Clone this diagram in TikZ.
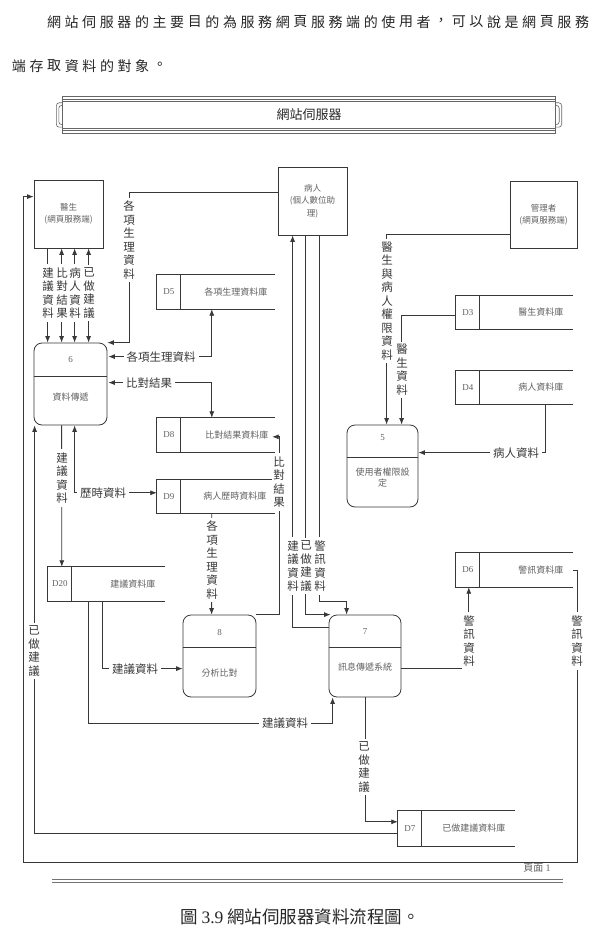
\documentclass[tikz,border=0pt]{standalone}
\usepackage{fontspec}
\newfontfamily\cjk{Noto Sans CJK TC}
\newfontfamily\tnr{Liberation Serif}
\usetikzlibrary{arrows.meta,calc}
\definecolor{linec}{gray}{0.22}
\definecolor{boxc}{gray}{0.38}
\definecolor{labc}{gray}{0.22}
\newcommand\mkstore[8]{%
  \node[minimum width=#4pt,minimum height=#5pt,inner sep=0pt] (#1) at (#2,#3) {};
  \draw[ln] (#1.north east) -- (#1.north west) -- (#1.south west) -- (#1.south east);
  \draw[ln] ($(#1.north west)+(24,0)$) -- ($(#1.south west)+(24,0)$);
  \node[btxt,font=\tnr\fontsize{9}{11}\selectfont] (#1i) at ($(#1.west)+(12,0)$) {#6};
  \node[btxt] (#1t) at ($(#1.west)+(#8,0)$) {#7};
}
\begin{document}
\begin{tikzpicture}[x=1pt,y=-1pt,
  ln/.style={draw=linec,line width=0.8pt},
  arr/.style={ln,-{Latex[length=6.5pt,width=5pt]}},
  barr/.style={ln,{Latex[length=6.5pt,width=5pt]}-{Latex[length=6.5pt,width=5pt]}},
  ext/.style={draw=linec,line width=0.8pt,inner sep=0pt,align=center,font=\cjk\fontsize{8.5}{12.5}\selectfont,text=boxc},
  proc/.style={draw=linec,line width=0.8pt,rounded corners=8pt,inner sep=0pt},
  btxt/.style={inner sep=0pt,align=center,font=\cjk\fontsize{9}{11}\selectfont,text=boxc},
  vlab/.style={fill=white,inner xsep=1pt,inner ysep=3pt,align=center,font=\cjk\fontsize{11.5}{13.5}\selectfont,text=labc},
  hlab/.style={fill=white,inner xsep=3pt,inner ysep=1pt,font=\cjk\fontsize{11.5}{13.5}\selectfont,text=labc},
  ttxt/.style={inner sep=0pt,font=\cjk\fontsize{14}{16}\selectfont,text=black!85},
  hdrl/.style={draw=black!60,line width=0.6pt},
]
\fill[white] (0,0) rectangle (599,936);
\useasboundingbox (0,0) rectangle (599,936);

% top paragraph
\foreach \c [count=\i from 0] in {網,站,伺,服,器,的,主,要,目,的,為,服,務,網,頁,服,務,端,的,使,用,者,，,可,以,說,是,網,頁,服,務}
  \node[ttxt] (ta\i) at (54+17.6*\i,22) {\c};
\foreach \c [count=\i from 0] in {端,存,取,資,料,的,對,象,。}
  \node[ttxt] (tb\i) at (19+17.6*\i,66) {\c};

% header
\node[inner sep=0pt,minimum width=493pt,minimum height=36pt] (hdr) at (309,115) {};
\draw[hdrl] (hdr.north west) rectangle (hdr.south east);
\draw[hdrl] ($(hdr.north west)+(0,2.5)$) -- ($(hdr.north east)+(0,2.5)$);
\draw[hdrl] ($(hdr.north west)+(0,5)$) -- ($(hdr.north east)+(0,5)$);
\draw[hdrl] ($(hdr.south west)+(0,-2.5)$) -- ($(hdr.south east)+(0,-2.5)$);
\draw[hdrl] ($(hdr.south west)+(0,-5)$) -- ($(hdr.south east)+(0,-5)$);
\draw[hdrl,rounded corners=3pt] ($(hdr.north west)+(0,6)$) -- ($(hdr.north west)+(-6,6)$) -- ($(hdr.south west)+(-6,-6)$) -- ($(hdr.south west)+(0,-6)$);
\draw[hdrl,rounded corners=3pt] ($(hdr.north west)+(0,8.5)$) -- ($(hdr.north west)+(-3.5,8.5)$) -- ($(hdr.south west)+(-3.5,-8.5)$) -- ($(hdr.south west)+(0,-8.5)$);
\draw[hdrl,rounded corners=3pt] ($(hdr.north east)+(0,6)$) -- ($(hdr.north east)+(6,6)$) -- ($(hdr.south east)+(6,-6)$) -- ($(hdr.south east)+(0,-6)$);
\draw[hdrl,rounded corners=3pt] ($(hdr.north east)+(0,8.5)$) -- ($(hdr.north east)+(3.5,8.5)$) -- ($(hdr.south east)+(3.5,-8.5)$) -- ($(hdr.south east)+(0,-8.5)$);
\node[font=\cjk\fontsize{13}{15}\selectfont,text=black!85] (title) at (hdr.center) {網站伺服器};

% external entities
\node[ext,minimum width=69pt,minimum height=68pt] (doc) at (68.5,214) {醫生\\(網頁服務端)};
\node[ext,minimum width=69pt,minimum height=68pt] (pat) at (312.5,201) {病人\\(個人數位助\\理)};
\node[ext,minimum width=67pt,minimum height=67pt] (adm) at (543.5,214.5) {管理者\\(網頁服務端)};

% processes
\node[proc,minimum width=73pt,minimum height=82pt] (p6) at (70.5,384) {};
\draw[ln] ($(p6.north west)+(0,34)$) -- ($(p6.north east)+(0,34)$);
\node[btxt,font=\tnr\fontsize{9}{11}\selectfont] (p6n) at ($(p6.north)+(0,17)$) {6};
\node[btxt] (p6t) at ($(p6.north)+(0,54)$) {資料傳遞};

\node[proc,minimum width=71pt,minimum height=82pt] (p5) at (382.5,466) {};
\draw[ln] ($(p5.north west)+(0,33)$) -- ($(p5.north east)+(0,33)$);
\node[btxt,font=\tnr\fontsize{9}{11}\selectfont] (p5n) at ($(p5.north)+(0,13)$) {5};
\node[btxt] (p5t) at ($(p5.north)+(0,53)$) {使用者權限設\\定};

\node[proc,minimum width=73pt,minimum height=82pt] (p8) at (219.5,656) {};
\draw[ln] ($(p8.north west)+(0,33)$) -- ($(p8.north east)+(0,33)$);
\node[btxt,font=\tnr\fontsize{9}{11}\selectfont] (p8n) at ($(p8.north)+(0,18)$) {8};
\node[btxt] (p8t) at ($(p8.north)+(0,58)$) {分析比對};

\node[proc,minimum width=72pt,minimum height=82pt] (p7) at (365,656) {};
\draw[ln] ($(p7.north west)+(0,33)$) -- ($(p7.north east)+(0,33)$);
\node[btxt,font=\tnr\fontsize{9}{11}\selectfont] (p7n) at ($(p7.north)+(0,17)$) {7};
\node[btxt] (p7t) at ($(p7.north)+(0,52)$) {訊息傳遞系統};

% data stores
\mkstore{d5}{216}{292}{118}{34}{D5}{各項生理資料庫}{79}
\mkstore{d8}{216}{435}{118}{34}{D8}{比對結果資料庫}{80}
\mkstore{d9}{216}{496.5}{118}{33}{D9}{病人歷時資料庫}{78}
\mkstore{d20}{106.5}{584}{117}{34}{D20}{建議資料庫}{85}
\mkstore{d3}{514.5}{312.5}{117}{33}{D3}{醫生資料庫}{85}
\mkstore{d4}{514.5}{387.5}{117}{33}{D4}{病人資料庫}{85}
\mkstore{d6}{514.5}{570}{117}{34}{D6}{警訊資料庫}{85}
\mkstore{d7}{456.5}{828.5}{117}{35}{D7}{已做建議資料庫}{76}

% connectors
\coordinate (o1) at (577,862);
\coordinate (o2) at (23,862);
\draw[arr] (d6.east) -| (o1) -- (o2) |- ($(doc.north west)+(0,17)$);
\draw[arr] (p7.south) |- ($(d7.north west)+(0,11)$);
\draw[arr] ($(d7.south west)+(0,-13)$) -| ($(p6.south west)+(1,0)$);
\draw[arr] ($(pat.north west)+(0,26)$) -| ($(p6.north east)+(22,0)$) -- (p6.north east);
\draw[arr] ($(doc.south west)+(14,0)$) -- ($(p6.north west)+(14,0)$);
\draw[barr] ($(doc.south west)+(28,0)$) -- ($(p6.north west)+(28,0)$);
\draw[barr] ($(doc.south west)+(41,0)$) -- ($(p6.north west)+(41,0)$);
\draw[barr] ($(doc.south west)+(55,0)$) -- ($(p6.north west)+(55,0)$);
\draw[barr] ($(p6.north east)+(1,14)$) -| ($(d5.south west)+(55,0)$);
\draw[barr] ($(p6.north east)+(1,40)$) -| ($(d8.north west)+(55,0)$);
\draw[arr] ($(p6.south west)+(28,0)$) -- ($(d20.north west)+(14,0)$);
\draw[barr] ($(p6.south west)+(41,0)$) |- ($(d9.north west)+(0,13)$);
\draw[arr] ($(d9.south west)+(55,0)$) -- ($(p8.north west)+(29,0)$);
\draw[arr] (p8.north east) -- ++(23,0) |- ($(d8.north east)+(-3,19)$);
\draw[arr] ($(d20.south west)+(55,0)$) |- ($(p8.north west)+(0,54)$);
\draw[arr] ($(d20.south west)+(41,0)$) |- ($(p7.south west)+(4,26)$) -- ($(p7.south west)+(4,0)$);
\draw[arr] ($(p7.north west)+(0,13)$) -| ($(pat.south west)+(15,0)$);
\draw[arr] ($(pat.south west)+(28,0)$) |- ($(p7.north west)+(2,0)$);
\draw[arr] ($(pat.south west)+(42,0)$) |- ($(p7.north west)+(18,-13)$) -- ($(p7.north west)+(18,0)$);
\draw[arr] ($(p7.north east)+(0,54)$) -| ($(d6.south west)+(13,0)$);
\draw[arr] ($(adm.north west)+(0,54)$) -| ($(p5.north west)+(40,0)$);
\draw[arr] ($(d3.north west)+(0,20)$) -| ($(p5.north west)+(55,0)$);
\draw[arr] ($(d4.south west)+(90,0)$) |- ($(p5.north east)+(0,28)$);

% labels
\node[vlab] (l1) at (129,240) {各\\項\\生\\理\\資\\料};
\node[vlab] (l2) at (48,293) {建\\議\\資\\料};
\node[vlab] (l3) at (62,293) {比\\對\\結\\果};
\node[vlab] (l4) at (75,293) {病\\人\\資\\料};
\node[vlab] (l5) at (89,293) {已\\做\\建\\議};
\node[vlab] (l6) at (387,301) {醫\\生\\與\\病\\人\\權\\限\\資\\料};
\node[vlab] (l7) at (402,370) {醫\\生\\資\\料};
\node[vlab] (l8) at (62,478) {建\\議\\資\\料};
\node[vlab] (l9) at (279,482) {比\\對\\結\\果};
\node[vlab] (l10) at (212,560) {各\\項\\生\\理\\資\\料};
\node[vlab] (l11) at (293,566) {建\\議\\資\\料};
\node[vlab] (l12) at (306,566) {已\\做\\建\\議};
\node[vlab] (l13) at (320,566) {警\\訊\\資\\料};
\node[vlab] (l14) at (469,641) {警\\訊\\資\\料};
\node[vlab] (l15) at (577,641) {警\\訊\\資\\料};
\node[vlab] (l16) at (34,651) {已\\做\\建\\議};
\node[vlab] (l17) at (364,767) {已\\做\\建\\議};
\node[hlab] (h1) at (161,357) {各項生理資料};
\node[hlab] (h2) at (149,383) {比對結果};
\node[hlab] (h3) at (103,493) {歷時資料};
\node[hlab] (h4) at (516,453) {病人資料};
\node[hlab] (h5) at (135,669) {建議資料};
\node[hlab] (h6) at (285,723) {建議資料};

% footer
\node[font=\cjk\fontsize{10}{12}\selectfont,text=boxc] (pg) at (537,868) {頁面 {\tnr 1}};
\draw[draw=black!55,line width=0.7pt] (52,879) -- (563,879);
\draw[draw=black!55,line width=0.7pt] (52,882) -- (563,882);
\node[font=\cjk\fontsize{17.5}{20}\selectfont,text=black!85] (cap) at (300,917) {圖 {\tnr 3.9} 網站伺服器資料流程圖。};
\end{tikzpicture}
\end{document}
